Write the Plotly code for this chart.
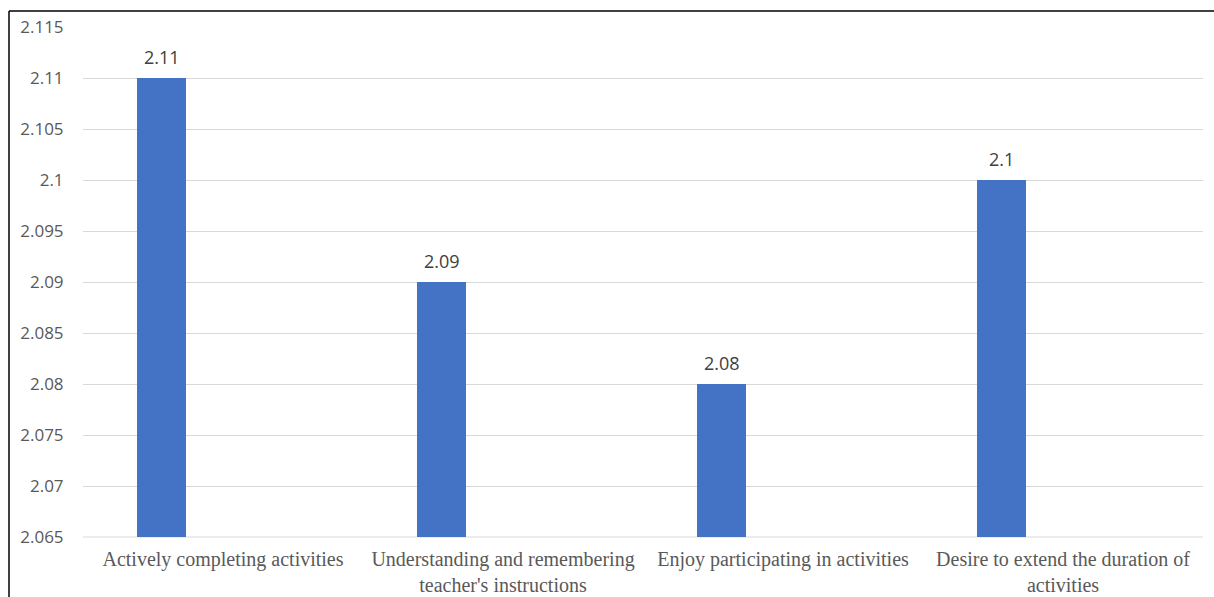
import plotly.graph_objects as go

categories = [
    "Actively completing activities",
    "Understanding and remembering<br>teacher's instructions",
    "Enjoy participating in activities",
    "Desire to extend the duration of<br>activities",
]
values = [2.11, 2.09, 2.08, 2.10]
value_labels = ["2.11", "2.09", "2.08", "2.1"]
tick_vals = [2.065, 2.07, 2.075, 2.08, 2.085, 2.09, 2.095, 2.1, 2.105, 2.11, 2.115]
tick_text = ["2.065", "2.07", "2.075", "2.08", "2.085", "2.09", "2.095", "2.1", "2.105", "2.11", "2.115"]

W, H = 1214, 597
L, R, T, B = 83, 11, 27, 60
pw, ph = W - L - R, H - T - B

BAR_W = 0.175
BAR_OFF = -0.307

fig = go.Figure()
fig.add_trace(go.Bar(
    x=list(range(len(categories))), y=values,
    width=BAR_W, offset=BAR_OFF,
    marker=dict(color="#4472c4", line=dict(width=0)),
    hoverinfo="skip",
))

for i, (v, lab) in enumerate(zip(values, value_labels)):
    fig.add_annotation(
        x=i + BAR_OFF + BAR_W / 2, y=v, text=lab, showarrow=False,
        yanchor="bottom", yshift=7,
        font=dict(family="Open Sans, Liberation Sans, sans-serif", size=18, color="#404040"),
    )

fig.update_layout(
    width=W, height=H, autosize=False,
    margin=dict(l=L, r=R, t=T, b=B),
    paper_bgcolor="white", plot_bgcolor="white",
    showlegend=False,
    xaxis=dict(
        range=[-0.5, 3.5],
        tickvals=list(range(len(categories))), ticktext=categories,
        showgrid=False, zeroline=False, showline=False,
        ticks="outside", ticklen=4, tickcolor="rgba(0,0,0,0)",
        tickfont=dict(family="Liberation Serif, Times New Roman, serif", size=20, color="#595959"),
        tickangle=0,
        automargin=False,
    ),
    yaxis=dict(
        range=[2.065, 2.115],
        tickvals=tick_vals, ticktext=tick_text,
        showgrid=True, gridcolor="#d9d9d9", gridwidth=1,
        zeroline=False, showline=False,
        ticks="outside", ticklen=15, tickcolor="rgba(0,0,0,0)",
        tickfont=dict(family="Open Sans, Liberation Sans, sans-serif", size=17, color="#595959"),
        automargin=False,
    ),
    bargap=0,
)

fig.add_shape(type="line", xref="paper", yref="paper", x0=0, x1=1, y0=0, y1=0,
              line=dict(color="#d9d9d9", width=1), layer="below")

# outer frame (top and left edges visible)
x_left = (9 - L) / pw
y_top = 1 + (T - 11) / ph
fig.add_shape(type="line", xref="paper", yref="paper", x0=x_left, x1=(W - L) / pw,
              y0=y_top, y1=y_top, line=dict(color="black", width=1.5))
fig.add_shape(type="line", xref="paper", yref="paper", x0=x_left, x1=x_left,
              y0=y_top, y1=-(B + 20) / ph, line=dict(color="black", width=1.5))

fig.write_html(
    "out.html",
    config={"responsive": False, "displayModeBar": False},
    post_script="document.body.style.margin='0';document.body.style.overflow='hidden';",
)
